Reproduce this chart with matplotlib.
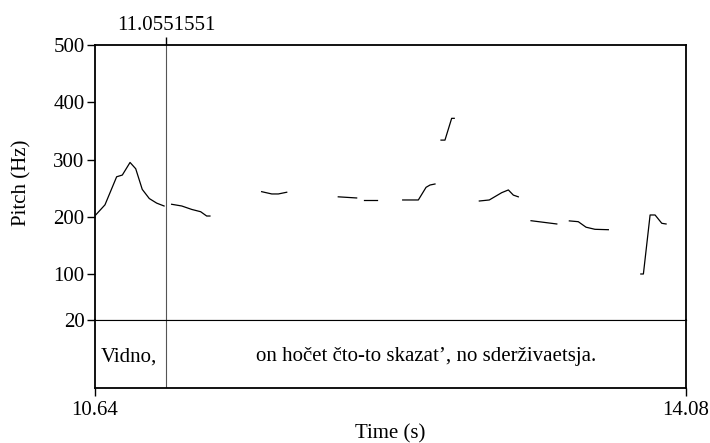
import matplotlib.pyplot as plt
import numpy as np

plt.rcParams['font.family'] = ['Liberation Serif', 'DejaVu Serif']

# pitch contour pieces (time in s, pitch in Hz)
seg_times = [
    [10.640, 10.698, 10.766, 10.799, 10.844, 10.877, 10.915, 10.956, 10.999, 11.042],
    [11.086, 11.145, 11.203, 11.255, 11.290, 11.309],
    [11.610, 11.669, 11.707, 11.756],
    [12.056, 12.163],
    [12.206, 12.280],
    [12.431, 12.522, 12.567, 12.590, 12.619],
    [12.654, 12.677, 12.716, 12.731],
    [12.877, 12.935, 13.007, 13.046, 13.075, 13.104],
    [13.178, 13.328],
    [13.401, 13.453, 13.498, 13.550, 13.628],
    [13.817, 13.832, 13.871, 13.900, 13.939, 13.964],
]
seg_pitch = [
    [202, 221, 270, 273, 295, 284, 248, 232, 224, 219],
    [222, 219, 213, 209, 201.5, 201.5],
    [244, 240, 240, 243],
    [235, 233],
    [229, 229],
    [229.5, 229.5, 251.6, 255.6, 257.4],
    [334, 334, 372, 372],
    [227.7, 229.5, 242.2, 247, 238, 235],
    [193.3, 187.6],
    [193, 191.6, 182, 178.3, 177.6],
    [100.3, 100.3, 203.3, 203.3, 188.8, 187.6],
]

t_start, t_end = 10.64, 14.08
cursor = 11.0551551
y_ticks = [20, 100, 200, 300, 400, 500]
tier_bounds = [t_start, cursor, t_end]
tier_labels = ['Vidno,', 'on hočet čto-to skazat’, no sderživaetsja.']
fs = 15

fig = plt.figure(figsize=(7.1, 4.43), dpi=100)
ax = fig.add_axes([95 / 710, 123 / 443, 591 / 710, 275 / 443])
tier = fig.add_axes([95 / 710, 55 / 443, 591 / 710, 68 / 443])

for t, p in zip(seg_times, seg_pitch):
    ax.plot(t, p, color='black', linewidth=0.9)

ax.set_xlim(t_start, t_end)
ax.set_ylim(20, 500)
ax.set_yticks(y_ticks)
ax.set_yticklabels([str(v) for v in y_ticks])
ax.set_ylabel('Pitch (Hz)', fontsize=fs)
ax.yaxis.set_label_coords(-0.108, 0.5)
ax.axvline(cursor, color='#555555', linewidth=0.8)

# cursor time shown on top
ax.xaxis.set_ticks_position('top')
ax.set_xticks([cursor])
ax.set_xticklabels(['11.0551551'])
ax.tick_params(axis='both', direction='out', length=5.5, width=1, labelsize=fs, pad=2)
for s in ['left', 'top', 'right']:
    ax.spines[s].set_linewidth(1.3)

# text tier
tier.set_xlim(t_start, t_end)
tier.set_ylim(0, 1)
tier.axvline(cursor, color='#555555', linewidth=0.8)
tier.text(t_start + 0.035, 0.46, tier_labels[0], fontsize=fs, va='center', ha='left')
tier.text((tier_bounds[1] + tier_bounds[2]) / 2, 0.46, tier_labels[1], fontsize=fs, va='center', ha='center')
tier.set_yticks([])
tier.set_xticks([t_start, t_end])
tier.set_xticklabels(['10.64', '14.08'])
tier.tick_params(axis='x', direction='out', length=5.5, width=1, labelsize=fs, pad=4)
tier.set_xlabel('Time (s)', fontsize=fs)
tier.xaxis.set_label_coords(0.5, -0.53)
tier.spines['top'].set_linewidth(0.8)
for s in ['left', 'bottom', 'right']:
    tier.spines[s].set_linewidth(1.3)

fig.savefig('out.png', dpi=100)
